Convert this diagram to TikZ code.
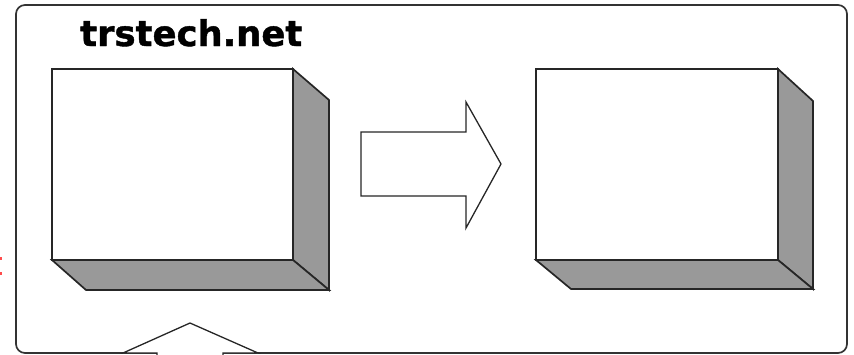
\documentclass[tikz,border=0pt]{standalone}
\usepackage{fontspec}
\setmainfont{DejaVu Sans}[BoldFeatures={FakeBold=1.2}]
\begin{document}
\begin{tikzpicture}[x=1pt,y=-1pt,
  frameline/.style={draw=black!80, line width=1.7pt, rounded corners=9pt},
  face/.style={draw=black!85, line width=1.7pt, fill=white, line join=miter},
  sideface/.style={draw=black!85, line width=1.7pt, fill=black!40, line join=miter},
  bigarrow/.style={draw=black!85, line width=1.3pt, fill=white, line join=miter},
  logo/.style={font=\fontsize{35.4}{35.4}\selectfont\bfseries, inner sep=0pt, anchor=base west}
]
\useasboundingbox (0,0) rectangle (854,354);
\begin{scope}
\clip (0,0) rectangle (854,354);

% outer frame
\draw[frameline] (16,5) rectangle (847,353);

% heading
\node[logo] (title) at (80,46) {trstech.net};

% left block: front face, bottom and right sides
\coordinate (la) at (52,69);
\coordinate (lb) at (293,69);
\coordinate (lc) at (293,260);
\coordinate (ld) at (52,260);
\filldraw[sideface] (lb) -- (329,100) -- (329,290) -- (lc) -- cycle;
\filldraw[sideface] (ld) -- (lc) -- (329,290) -- (86,290) -- cycle;
\filldraw[face] (la) rectangle (lc);

% right block
\coordinate (ra) at (536,69);
\coordinate (rb) at (778,69);
\coordinate (rc) at (778,260);
\coordinate (rd) at (536,260);
\filldraw[sideface] (rb) -- (813,101) -- (813,289) -- (rc) -- cycle;
\filldraw[sideface] (rd) -- (rc) -- (813,289) -- (571,289) -- cycle;
\filldraw[face] (ra) rectangle (rc);

% block arrow between the two blocks
\filldraw[bigarrow] (361,132) -- (466,132) -- (466,102) -- (501,164)
  -- (466,228) -- (466,196) -- (361,196) -- cycle;

% upward block arrow entering from below
\filldraw[bigarrow] (157,380) -- (157,353) -- (123,353) -- (190,323)
  -- (258,353) -- (223,353) -- (223,380);

% small red marks at the left margin
\fill[red!70] (0,256.5) rectangle (2,259.5);
\fill[red!70] (0,271.5) rectangle (2,274.5);
\end{scope}
\end{tikzpicture}
\end{document}
